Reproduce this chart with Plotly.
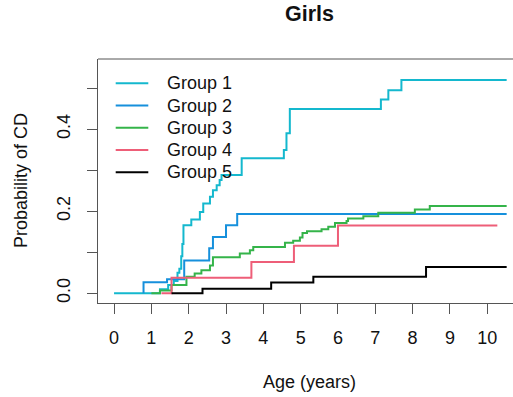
import plotly.graph_objects as go

# ---- data ----
groups = ["Group 1", "Group 2", "Group 3", "Group 4", "Group 5"]
colors = ["#14B8CE", "#1690DC", "#35B44A", "#EE5E78", "#000000"]

g1_x = [0, 1.23, 1.45, 1.6, 1.7, 1.75, 1.8, 1.83, 1.86, 2.07, 2.3, 2.39, 2.57, 2.65, 2.75, 2.83, 2.88, 3.42, 4.55, 4.62, 4.71, 7.15, 7.35, 7.70, 10.52]
g1_y = [0, 0.01, 0.02, 0.03, 0.05, 0.06, 0.09, 0.12, 0.166, 0.18, 0.198, 0.219, 0.235, 0.251, 0.263, 0.276, 0.288, 0.329, 0.349, 0.39, 0.449, 0.472, 0.495, 0.52, 0.52]

g2_x = [0.79, 0.79, 1.42, 1.88, 2.55, 2.65, 3.0, 3.3, 10.52]
g2_y = [0, 0.027, 0.034, 0.08, 0.11, 0.137, 0.166, 0.193, 0.193]

g3_x = [1.0, 1.23, 1.54, 1.94, 2.16, 2.34, 2.57, 2.65, 3.37, 3.64, 3.73, 4.58, 4.80, 4.98, 5.05, 5.17, 5.56, 5.74, 5.92, 6.23, 6.27, 6.68, 7.08, 8.06, 8.46, 10.52]
g3_y = [0, 0.007, 0.02, 0.04, 0.048, 0.056, 0.068, 0.088, 0.097, 0.105, 0.113, 0.123, 0.128, 0.136, 0.147, 0.151, 0.156, 0.162, 0.171, 0.176, 0.182, 0.188, 0.196, 0.204, 0.213, 0.213]

g4_x = [1.27, 1.54, 3.68, 4.82, 6.0, 10.27]
g4_y = [0, 0.038, 0.076, 0.116, 0.165, 0.165]

g5_x = [1.54, 2.37, 4.21, 5.34, 8.36, 10.52]
g5_y = [0, 0.011, 0.026, 0.04, 0.064, 0.064]

x_ticks = list(range(0, 11))
y_ticks = [0, 0.1, 0.2, 0.3, 0.4, 0.5]
y_tick_labels = ["0.0", "", "0.2", "", "0.4", ""]

title = "Girls"
x_title = "Age (years)"
y_title = "Probability of CD"

series = [(g1_x, g1_y), (g2_x, g2_y), (g3_x, g3_y), (g4_x, g4_y), (g5_x, g5_y)]

FONT = "Liberation Sans, Arial, Helvetica, sans-serif"
AX = "#555555"

fig = go.Figure()
for (xs, ys), name, col in zip(series, groups, colors):
    fig.add_trace(go.Scatter(x=xs, y=ys, mode="lines", name=name,
                             line=dict(color=col, width=2, shape="hv"),
                             showlegend=False, hoverinfo="skip"))

W, H = 513, 397
ml, mr, mt, mb = 98, 0, 59, 94
pw, ph = W - ml - mr, H - mt - mb

def px(xp):
    return (xp - ml) / pw

def py(yp):
    return (H - mb - yp) / ph

shapes = []
annotations = []
# top border of the box (extends beyond the visible page on the right)
shapes.append(dict(type="line", xref="paper", yref="paper", x0=0, x1=1.05, y0=1, y1=1,
                   line=dict(color=AX, width=1)))

# legend drawn manually (R style)
row_y = [83.3, 105.5, 127.8, 150.0, 172.3]
for name, col, ry in zip(groups, colors, row_y):
    shapes.append(dict(type="line", xref="paper", yref="paper",
                       x0=px(115.7), x1=px(148.3), y0=py(ry), y1=py(ry),
                       line=dict(color=col, width=2)))
    annotations.append(dict(text=name, xref="paper", yref="paper", x=px(164.5), y=py(ry),
                            xanchor="left", yanchor="middle", showarrow=False,
                            font=dict(size=18, color="#111111", family=FONT)))

annotations.append(dict(text="<b>" + title + "</b>", xref="paper", yref="paper",
                        x=px(309), y=py(14), xanchor="center", yanchor="middle",
                        showarrow=False, font=dict(size=21.5, color="#111111", family=FONT)))
annotations.append(dict(text=x_title, xref="paper", yref="paper",
                        x=px(309), y=py(382), xanchor="center", yanchor="middle",
                        showarrow=False, font=dict(size=18, color="#111111", family=FONT)))
annotations.append(dict(text=y_title, xref="paper", yref="paper",
                        x=px(21), y=py(181), xanchor="center", yanchor="middle",
                        textangle=-90, showarrow=False,
                        font=dict(size=18, color="#111111", family=FONT)))

fig.update_layout(
    width=W, height=H,
    margin=dict(l=ml, r=mr, t=mt, b=mb, pad=0),
    paper_bgcolor="white", plot_bgcolor="white",
    font=dict(family=FONT, size=18, color="#111111"),
    shapes=shapes, annotations=annotations,
    showlegend=False,
)
fig.update_xaxes(range=[-0.43, 10.69], tickvals=x_ticks, ticktext=[str(t) for t in x_ticks],
                 ticks="outside", ticklen=10, tickwidth=1, tickcolor=AX,
                 showline=True, linecolor=AX, linewidth=1,
                 showgrid=False, zeroline=False, ticklabelstandoff=8,
                 tickfont=dict(size=18, color="#111111", family=FONT))
fig.update_yaxes(range=[-0.0237, 0.571], tickvals=y_ticks, ticktext=y_tick_labels,
                 ticks="outside", ticklen=10, tickwidth=1, tickcolor=AX,
                 showline=True, linecolor=AX, linewidth=1, tickangle=-90,
                 showgrid=False, zeroline=False, ticklabelstandoff=10,
                 tickfont=dict(size=18, color="#111111", family=FONT))

fig.write_html("out.html")
